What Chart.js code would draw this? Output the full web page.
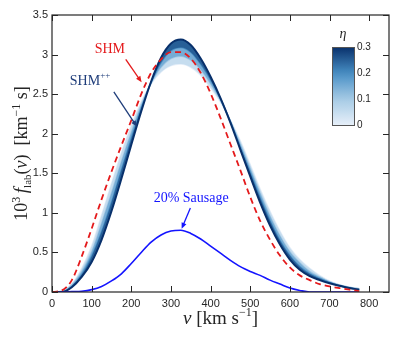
<!DOCTYPE html>
<html>
<head>
<meta charset="utf-8">
<script src="https://cdn.jsdelivr.net/npm/chart.js@4.4.1/dist/chart.umd.min.js"></script>
<style>
  html, body { margin: 0; padding: 0; background: #fff; }
  canvas { display: block; }
</style>
</head>
<body>
<canvas id="chart" width="407" height="340"></canvas>
<script>
/* ---- data (speed in km/s, 10^3 f in km^-1 s) ---- */
const velocity = [0, 25, 50, 75, 100, 125, 150, 175, 200, 225, 250, 275, 300, 325, 350, 375,
                  400, 425, 450, 475, 500, 525, 550, 575, 600, 625, 650, 675, 700, 725, 750, 775];

const shmValues = [0, 0.02, 0.15, 0.45, 0.80, 1.17, 1.52, 1.85, 2.17, 2.50, 2.77, 2.94, 3.03, 3.03, 2.95, 2.77,
                   2.51, 2.20, 1.87, 1.54, 1.20, 0.90, 0.66, 0.46, 0.31, 0.21, 0.15, 0.10, 0.07, 0.05, 0.03, 0.01];

const sausageValues = [0, 0, 0.005, 0.01, 0.03, 0.07, 0.14, 0.23, 0.36, 0.50, 0.63, 0.72, 0.77, 0.78, 0.74, 0.67,
                       0.58, 0.49, 0.40, 0.32, 0.26, 0.21, 0.15, 0.10, 0.05, 0.02, 0, 0, 0, 0, 0, 0];

/* SHM++ family, one curve per eta */
const etaLevels = [0, 0.1, 0.2, 0.3];
const shmPPEta0 = [0, 0.01, 0.10, 0.30, 0.58, 0.97, 1.37, 1.76, 2.10, 2.40, 2.63, 2.78, 2.86, 2.88, 2.84, 2.74,
                   2.58, 2.40, 2.17, 1.91, 1.61, 1.30, 1.02, 0.77, 0.56, 0.41, 0.30, 0.21, 0.14, 0.09, 0.06, 0.04];
const shmPPEta1 = [0, 0.01, 0.09, 0.26, 0.51, 0.87, 1.25, 1.65, 2.02, 2.36, 2.64, 2.84, 2.95, 2.98, 2.93, 2.81,
                   2.63, 2.42, 2.16, 1.87, 1.56, 1.25, 0.96, 0.71, 0.51, 0.37, 0.26, 0.19, 0.13, 0.09, 0.06, 0.04];
const shmPPEta2 = [0, 0, 0.07, 0.22, 0.45, 0.76, 1.13, 1.54, 1.94, 2.32, 2.65, 2.90, 3.05, 3.09, 3.03, 2.88,
                   2.68, 2.44, 2.15, 1.83, 1.51, 1.19, 0.90, 0.65, 0.46, 0.32, 0.23, 0.17, 0.12, 0.08, 0.05, 0.03];
const shmPPEta3 = [0, 0, 0.06, 0.19, 0.38, 0.66, 1.02, 1.43, 1.86, 2.28, 2.66, 2.96, 3.14, 3.19, 3.12, 2.95,
                   2.72, 2.45, 2.14, 1.80, 1.46, 1.13, 0.84, 0.60, 0.41, 0.28, 0.20, 0.15, 0.11, 0.08, 0.05, 0.03];
const shmPPCurves = [shmPPEta0, shmPPEta1, shmPPEta2, shmPPEta3];

const xTicks = [0, 100, 200, 300, 400, 500, 600, 700, 800];
const yTicks = [0, 0.5, 1, 1.5, 2, 2.5, 3, 3.5];
const colorbarTicks = [0, 0.1, 0.2, 0.3];

/* ---- style ---- */
const SERIF = '"Liberation Serif", "DejaVu Serif", serif';
const SANS = '"Liberation Sans", Arial, sans-serif';
const INK = '#262626';
const RED = '#e41a1c';
const BLUE = '#1414ff';
const NAVY = '#1f3d7a';
const ETA_MAX = 0.3;

/* Blues-like colour ramp, t in [0,1] */
const RAMP = [[0, [230, 239, 249]], [0.33, [166, 203, 229]], [0.66, [72, 143, 197]], [1, [8, 48, 107]]];
function blues(t) {
  for (let i = 1; i < RAMP.length; i++) {
    if (t <= RAMP[i][0]) {
      const [t0, c0] = RAMP[i - 1], [t1, c1] = RAMP[i];
      const f = (t - t0) / (t1 - t0);
      const c = c0.map((v, k) => Math.round(v + (c1[k] - v) * f));
      return `rgb(${c[0]},${c[1]},${c[2]})`;
    }
  }
  return 'rgb(8,48,107)';
}

const toPoints = vals => velocity.map((v, i) => ({ x: v, y: vals[i] }));

const lineBase = { pointRadius: 0, cubicInterpolationMode: 'monotone', borderJoinStyle: 'round' };

const datasets = shmPPCurves.map((vals, i) => ({
  ...lineBase,
  data: toPoints(vals),
  borderColor: blues(etaLevels[i] / ETA_MAX),
  borderWidth: i === shmPPCurves.length - 1 ? 2 : 1.5,
  fill: i === 0 ? false : '-1',
  backgroundColor: i === 0 ? 'transparent' : blues((etaLevels[i] + etaLevels[i - 1]) / 2 / ETA_MAX),
  order: shmPPCurves.length + 1 - i,
}));
datasets.push({ ...lineBase, data: toPoints(shmValues), borderColor: RED, borderWidth: 1.8, borderDash: [6, 4], fill: false, order: 0 });
datasets.push({ ...lineBase, data: toPoints(sausageValues), borderColor: BLUE, borderWidth: 1.6, fill: false, order: 1 });

/* annotations, anchored in data units */
const labels = [
  { parts: [{ text: 'SHM', font: `14px ${SERIF}` }], color: RED, v: 146, f: 3.07 },
  { parts: [{ text: 'SHM', font: `14px ${SERIF}` }, { text: '++', font: `9px ${SERIF}`, dy: -6 }], color: NAVY, v: 96, f: 2.66 },
  { parts: [{ text: '20% Sausage', font: `14px ${SERIF}` }], color: BLUE, v: 351, f: 1.18 },
];
const arrows = [
  { from: [186, 2.94], to: [226, 2.65], color: RED },
  { from: [156, 2.53], to: [214, 2.09], color: NAVY },
  { from: [349, 1.06], to: [327, 0.80], color: BLUE },
];

/* draw a run of text pieces with different fonts, left to right */
function drawRich(ctx, parts, x, y, align) {
  ctx.textAlign = 'left';
  let w = 0;
  parts.forEach(p => { ctx.font = p.font; p.w = ctx.measureText(p.text).width; w += p.w; });
  let cx = align === 'center' ? x - w / 2 : x;
  parts.forEach(p => { ctx.font = p.font; ctx.fillText(p.text, cx, y + (p.dy || 0)); cx += p.w; });
}

function drawArrow(ctx, x1, y1, x2, y2, color) {
  const a = Math.atan2(y2 - y1, x2 - x1), len = 6, half = 2.6;
  ctx.strokeStyle = color; ctx.fillStyle = color; ctx.lineWidth = 1.3;
  ctx.beginPath();
  ctx.moveTo(x1, y1);
  ctx.lineTo(x2 - Math.cos(a) * len * 0.8, y2 - Math.sin(a) * len * 0.8);
  ctx.stroke();
  ctx.beginPath();
  ctx.moveTo(x2, y2);
  ctx.lineTo(x2 - Math.cos(a) * len - Math.sin(a) * half, y2 - Math.sin(a) * len + Math.cos(a) * half);
  ctx.lineTo(x2 - Math.cos(a) * len + Math.sin(a) * half, y2 - Math.sin(a) * len - Math.cos(a) * half);
  ctx.closePath();
  ctx.fill();
}

const decorations = {
  id: 'decorations',
  afterDraw(chart) {
    const ctx = chart.ctx, xs = chart.scales.x, ys = chart.scales.y;
    const { left, right, top, bottom } = chart.chartArea;
    ctx.save();

    // frame + inward ticks on all four sides
    ctx.strokeStyle = INK; ctx.lineWidth = 1.2;
    ctx.strokeRect(left, top, right - left, bottom - top);
    ctx.lineWidth = 1;
    ctx.beginPath();
    xTicks.forEach(v => {
      const px = Math.round(xs.getPixelForValue(v)) + 0.5;
      ctx.moveTo(px, bottom); ctx.lineTo(px, bottom - 6);
      ctx.moveTo(px, top); ctx.lineTo(px, top + 6);
    });
    yTicks.forEach(v => {
      const py = Math.round(ys.getPixelForValue(v)) + 0.5;
      ctx.moveTo(left, py); ctx.lineTo(left + 6, py);
      ctx.moveTo(right, py); ctx.lineTo(right - 6, py);
    });
    ctx.stroke();

    // curve labels and arrows
    ctx.textBaseline = 'middle';
    labels.forEach(l => {
      ctx.fillStyle = l.color;
      drawRich(ctx, l.parts, xs.getPixelForValue(l.v), ys.getPixelForValue(l.f), 'center');
    });
    arrows.forEach(a => drawArrow(ctx,
      xs.getPixelForValue(a.from[0]), ys.getPixelForValue(a.from[1]),
      xs.getPixelForValue(a.to[0]), ys.getPixelForValue(a.to[1]), a.color));

    // colour bar for eta
    const cbL = 332, cbT = 47, cbW = 22, cbH = 78;
    const grad = ctx.createLinearGradient(0, cbT, 0, cbT + cbH);
    for (let i = 0; i <= 10; i++) grad.addColorStop(i / 10, blues(1 - i / 10));
    ctx.fillStyle = grad;
    ctx.fillRect(cbL, cbT, cbW, cbH);
    ctx.strokeStyle = '#555'; ctx.lineWidth = 1;
    ctx.strokeRect(cbL + 0.5, cbT + 0.5, cbW, cbH);
    ctx.fillStyle = INK; ctx.font = `10px ${SANS}`; ctx.textAlign = 'left';
    colorbarTicks.forEach(t => ctx.fillText(String(t), cbL + cbW + 3, cbT + cbH - (t / ETA_MAX) * cbH));
    ctx.textAlign = 'center';
    ctx.font = `italic 14px ${SERIF}`;
    ctx.fillText('\u03b7', cbL + cbW / 2, 34);

    // axis titles
    ctx.textBaseline = 'alphabetic';
    ctx.fillStyle = INK;
    drawRich(ctx, [
      { text: 'v', font: `italic 19px ${SERIF}` },
      { text: ' [km s', font: `19px ${SERIF}` },
      { text: '\u22121', font: `12px ${SERIF}`, dy: -8 },
      { text: ']', font: `19px ${SERIF}` },
    ], (left + right) / 2, 324, 'center');

    ctx.translate(27, (top + bottom) / 2);
    ctx.rotate(-Math.PI / 2);
    drawRich(ctx, [
      { text: '10', font: `18px ${SERIF}` },
      { text: '3', font: `12px ${SERIF}`, dy: -7 },
      { text: '\u2009', font: `18px ${SERIF}` },
      { text: 'f', font: `italic 19px ${SERIF}` },
      { text: 'lab', font: `11px ${SERIF}`, dy: 4 },
      { text: '(', font: `18px ${SERIF}` },
      { text: 'v', font: `italic 18px ${SERIF}` },
      { text: ')  [km', font: `18px ${SERIF}` },
      { text: '\u22121', font: `12px ${SERIF}`, dy: -7 },
      { text: ' s]', font: `18px ${SERIF}` },
    ], 0, 0, 'center');

    ctx.restore();
  }
};

const hiddenGrid = { display: true, drawOnChartArea: false, drawTicks: false, tickLength: 0, color: 'transparent' };

new Chart(document.getElementById('chart'), {
  type: 'line',
  data: { datasets },
  options: {
    responsive: false,
    animation: false,
    layout: { padding: { top: 15, right: 18, left: 0, bottom: 0 } },
    plugins: { legend: { display: false }, tooltip: { enabled: false } },
    scales: {
      x: {
        type: 'linear', min: 0, max: 850,
        afterBuildTicks: s => { s.ticks = xTicks.map(v => ({ value: v })); },
        afterFit: s => { s.height = 48; },
        grid: hiddenGrid, border: { display: false },
        ticks: { color: INK, font: { family: SANS, size: 11 }, padding: 5, maxRotation: 0, callback: v => String(v) },
      },
      y: {
        type: 'linear', min: 0, max: 3.5,
        afterBuildTicks: s => { s.ticks = yTicks.map(v => ({ value: v })); },
        afterFit: s => { s.width = 52; },
        grid: hiddenGrid, border: { display: false },
        ticks: { color: INK, font: { family: SANS, size: 11 }, padding: 4, callback: v => String(v) },
      },
    },
  },
  plugins: [decorations],
});
</script>
</body>
</html>
